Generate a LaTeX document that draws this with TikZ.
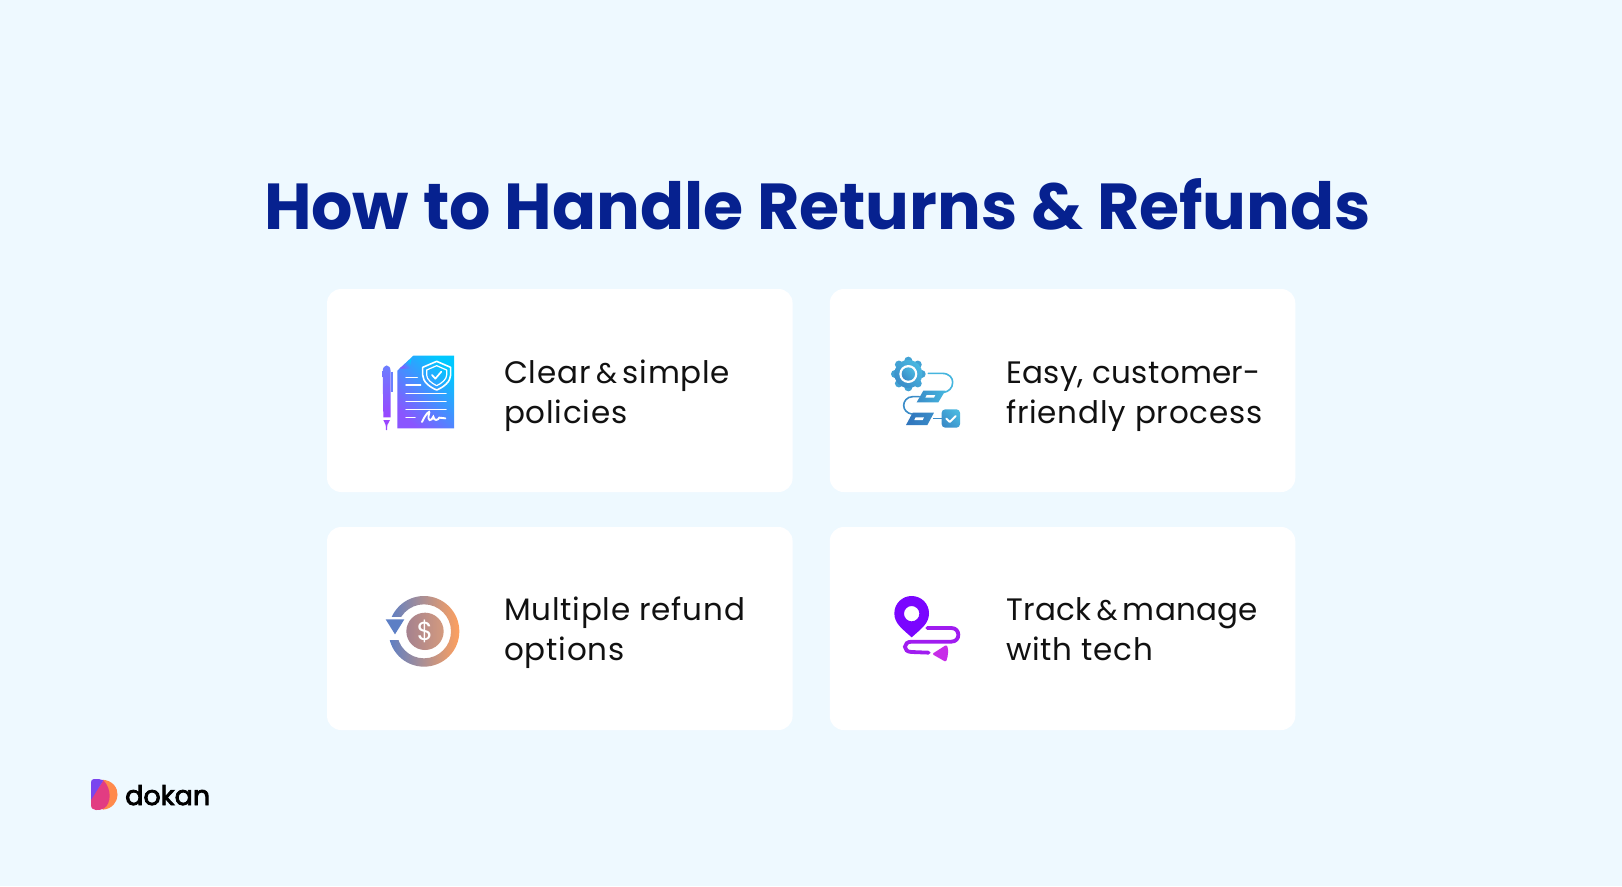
\documentclass[tikz,border=0pt]{standalone}
\usepackage{fontspec}
\setmainfont{Poppins}
\newfontfamily\logofont[FakeBold=3]{Poppins}
\newfontfamily\bodyfont[LetterSpace=2.5]{Poppins}
\newfontfamily\tightfont[LetterSpace=1]{Poppins}
\newcommand{\ampsign}{\kern-3.5pt{\fontsize{28.5}{40}\selectfont\&}\kern-3.5pt}
\definecolor{bgc}{HTML}{EEF9FF}
\definecolor{titlec}{HTML}{06218F}
\definecolor{inkc}{HTML}{111111}
\definecolor{penTop}{HTML}{6A80FF}
\definecolor{penBot}{HTML}{9A45FF}
\definecolor{docHi}{HTML}{00C8FF}
\definecolor{docLo}{HTML}{8A55FF}
\definecolor{gearHi}{HTML}{4AB8E0}
\definecolor{gearLo}{HTML}{3A8CC8}
\definecolor{flowHi}{HTML}{45B5DE}
\definecolor{flowLo}{HTML}{2F74BC}
\definecolor{ringL}{HTML}{5D7FC5}
\definecolor{ringR}{HTML}{FFA05E}
\definecolor{coinL}{HTML}{A5828F}
\definecolor{coinR}{HTML}{D49A7E}
\definecolor{pinc}{HTML}{7A05FF}
\definecolor{routec}{HTML}{A01CF0}
\definecolor{arrc}{HTML}{C72DE8}
\definecolor{logoO}{HTML}{FF8A4C}
\definecolor{logoP}{HTML}{E23C82}
\definecolor{logoV}{HTML}{7A45EE}
\tikzset{
  card/.style={fill=white,draw=none,rounded corners=14pt,minimum width=465.5pt,minimum height=203pt,inner sep=0pt},
  cardtext/.style={anchor=west,align=left,inner sep=0pt,text=inkc,font=\fontsize{31}{40}\bodyfont},
  whiteline/.style={draw=white,line width=1.5pt,line cap=round},
  glyph/.style={line cap=round,line join=round},
  diag/.style 2 args={top color=#1,bottom color=#2,shading angle=-45},
}
\begin{document}
\begin{tikzpicture}[x=1pt,y=-1pt]
\useasboundingbox (0,0) rectangle (1622,886);
\fill[bgc] (0,0) rectangle (1622,886);
\node[inner sep=0pt,text=titlec,font=\fontsize{65}{70}\selectfont\bfseries] (title) at (817.5,204) {How to Handle Returns \& Refunds};
\node[card] (c1) at (559.8,390.5) {};
\node[card] (c2) at (1062.5,390.5) {};
\node[card] (c3) at (559.8,628.5) {};
\node[card] (c4) at (1062.5,628.5) {};
\node[cardtext] (t1) at (504,395.6) {Clear \ampsign{} simple\\policies};
\node[cardtext] (t2) at (1006,396.5) {{\tightfont Easy, customer-}\\friendly process};
\node[cardtext] (t3) at (504,633) {Multiple refund\\options};
\node[cardtext] (t4) at (1006,629) {{\tightfont Track \ampsign{} manage}\\with tech};
% icon 1
\begin{scope}[shift={(360,340)},scale=1/3]
\shade[top color=penTop,bottom color=penBot] (68,95) .. controls (68,70) and (92,70) .. (92,95) -- (92,232) -- (70,232) -- cycle;
\fill[penBot] (70,240) -- (90,240) -- (82,255) -- (81,270) -- (78,270) -- (77,255) -- cycle;
\draw[penTop,line width=1.3pt] (96,95) -- (96,155);
\shade[diag={docHi}{docLo}] (160,47) -- (282,47) -- (282,265) -- (112,265) -- (112,92) -- cycle;
\shade[diag={docHi}{docLo}] (118,86) -- (155,55) -- (150,86) -- cycle;
\draw[white,line width=1.6pt,line join=round,fill=none] (230,64) -- (272,82) -- (272,105) .. controls (272,125) and (250,142) .. (230,150) .. controls (210,142) and (188,125) .. (188,105) -- (188,82) -- cycle;
\draw[white,line width=1.2pt,line join=round] (230,77) -- (260,90) -- (260,105) .. controls (260,118) and (245,130) .. (230,137) .. controls (215,130) and (200,118) .. (200,105) -- (200,90) -- cycle;
\draw[white,line width=1.7pt,glyph] (216,105) -- (226,116) -- (244,95);
\draw[whiteline] (138,112) -- (172,112);
\draw[whiteline] (138,135) -- (182,135);
\draw[whiteline] (138,160) -- (258,160);
\draw[whiteline] (138,184) -- (258,184);
\draw[whiteline] (138,208) -- (258,208);
\draw[whiteline] (138,233) -- (165,233);
\draw[whiteline,line width=1.9pt] (186,246) .. controls (195,225) and (212,205) .. (207,222) .. controls (200,245) and (215,245) .. (220,230) .. controls (222,245) and (235,240) .. (238,233) -- (256,235);
\end{scope}
% icon 2
\begin{scope}[shift={(870,340)},scale=1/3]
\foreach \a in {0,45,...,315} {
  \fill[gearHi!50!gearLo] (115,102) ++(\a:40) circle (12);
}
\shade[diag={gearHi}{gearLo}] (115,102) circle (42);
\fill[white] (115,102) circle (27);
\shade[diag={gearHi}{gearLo}] (115,102) circle (20);
\draw[flowHi,line width=1.6pt,line cap=round] (175,100) -- (215,100) .. controls (240,100) and (248,115) .. (248,127) .. controls (248,145) and (235,155) .. (222,157);
\draw[gearLo,line width=1.6pt,line cap=round] (148,170) -- (128,170) .. controls (110,170) and (101,185) .. (101,196) .. controls (101,210) and (112,220) .. (125,222);
\shade[left color=gearLo,right color=flowHi] (160,152) -- (226,152) -- (205,187) -- (140,187) -- cycle;
\fill[white] (170,165) -- (196,165) -- (192,173) -- (166,173) -- cycle;
\shade[left color=flowLo,right color=gearLo] (128,218) -- (192,218) -- (172,255) -- (108,255) -- cycle;
\fill[white] (137,232) -- (162,232) -- (158,240) -- (133,240) -- cycle;
\draw[gearLo,line width=1.4pt] (190,236) -- (215,236);
\shade[diag={gearHi}{gearLo},rounded corners=3.5pt] (215,208) rectangle (270,263);
\draw[white,line width=1.9pt,glyph] (229,236) -- (239,246) -- (257,228);
\end{scope}
% icon 3
\begin{scope}[shift={(370,580)},scale=1/3]
\shade[left color=ringL,right color=ringR,even odd rule] (162,154) circle (106) (162,154) circle (81);
\fill[white] (40,112) rectangle (100,180);
\fill[ringL] (47,118) -- (103,118) -- (75,163) -- cycle;
\shade[left color=coinL,right color=coinR] (165,154) circle (56);
\node[inner sep=0pt,text=white,font=\fontsize{26}{26}\selectfont] (dollar) at (165,154) {\$};
\end{scope}
% icon 4
\begin{scope}[shift={(870,580)},scale=1/3]
\fill[pinc,even odd rule] (125,172) .. controls (95,145) and (73,130) .. (73,100) .. controls (73,70) and (97,48) .. (125,48) .. controls (153,48) and (177,70) .. (177,100) .. controls (177,130) and (155,145) .. (125,172) -- cycle (125,101) circle (23);
\draw[routec,line width=3.8pt,line cap=round] (172,144) -- (244,144) .. controls (272,144) and (272,185) .. (244,185) -- (125,185) .. controls (98,185) and (98,216) .. (125,216) -- (176,218);
\fill[arrc,rounded corners=2pt] (186,222) -- (230,194) .. controls (236,210) and (234,228) .. (228,246) -- cycle;
\end{scope}
% logo
\begin{scope}[shift={(80,765)},scale=1/3]
\fill[logoO] (68,44) .. controls (130,50) and (125,130) .. (68,134) -- cycle;
\fill[logoP] (70,46) .. controls (95,70) and (95,115) .. (72,130) .. controls (60,137) and (33,140) .. (33,120) -- (33,100) -- cycle;
\fill[logoV] (42,42) .. controls (52,41) and (62,42) .. (70,46) -- (33,105) -- (33,52) .. controls (33,46) and (36,43) .. (42,42) -- cycle;
\end{scope}
\node[anchor=base west,inner sep=0pt,text=black,font=\fontsize{27}{28}\logofont] (logo) at (125,805) {dokan};
\end{tikzpicture}
\end{document}
